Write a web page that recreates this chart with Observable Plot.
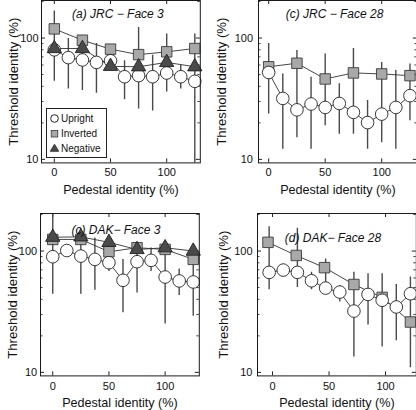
<!DOCTYPE html>
<html><head><meta charset="utf-8">
<script src="https://cdn.jsdelivr.net/npm/d3@7"></script>
<script src="https://cdn.jsdelivr.net/npm/@observablehq/plot@0.6"></script>
<style>
html,body{margin:0;padding:0;background:#fff;}
#wrap{position:relative;width:416px;height:410px;overflow:hidden;font-family:"Liberation Sans",Arial,sans-serif;}
#wrap .panel{position:absolute;}
#legend{position:absolute;left:46px;top:107.5px;width:59px;height:48.5px;border:1px solid #222;background:#fff;}
#legend svg{position:absolute;left:0;top:0;}
</style></head><body><div id="wrap"></div>
<script>
// ---------- shared tick labels ----------
const xTickValues = [0, 50, 100];
const yTickValues = [10, 100];
const yMinorTicks = [20, 30, 40, 50, 60, 70, 80, 90, 200];
const legendLabels = ["Upright", "Inverted", "Negative"];

// ---------- pedestal positions (%) ----------
const pedestalFine = [0, 12.5, 25, 37.5, 50, 62.5, 75, 87.5, 100, 112.5, 125];
const pedestalCoarse = [0, 25, 50, 75, 100, 125];
const pedestalFineD = [-3, 9.5, 22, 34.5, 47, 59.5, 72, 84.5, 97, 109.5, 122];
const pedestalCoarseD = [-4, 21, 46, 72, 97, 122];

// ---------- (a) JRC - Face 3 ----------
const aUpright   = [80, 69, 66, 63, 65, 48, 49, 48, 51.5, 48, 44];
const aUprightHi = [167, 99, 100, 90, 85, 65, 122, 72, 108, 60, 108];
const aUprightLo = [44, 38, 37, 35, 55, 31, 26, 25, 36, 38, 5];
const aInverted  = [119, 96, 81, 73, 77, 82];
const aNegative  = [82, 82, 58.5, 58, 63, 58];

// ---------- (c) JRC - Face 28 ----------
const bUpright   = [52, 31.8, 25.6, 28.6, 26.8, 28.9, 24.4, 20.1, 23.6, 26.8, 33.5];
const bUprightHi = [90, 50.6, 79, 47.5, 74, 42, 82, 30.5, 63, 54, 61];
const bUprightLo = [23.6, 12.1, 15.1, 12.1, 18.9, 16.1, 16.1, 12.1, 13.7, 12.1, 20.8];
const bInverted  = [58, 62, 46, 51.6, 50.6, 49];

// ---------- (c) DAK - Face 3 ----------
const cUpright   = [89.8, 101, 90.9, 85.4, 80.2, 57.4, 81.7, 83.8, 61.1, 56.7, 55.6];
const cUprightHi = [250, 101, 150, 128, 118, 85, 106, 106, 110, 71, 106];
const cUprightLo = [44, 101, 44, 47.5, 68, 31, 45, 68, 25, 43, 29];
const cInverted  = [124.7, 124.7, 98.7, 106.5, 103.2, 85.4];
const cNegative  = [130, 131, 118, 103, 106.5, 100];

// ---------- (d) DAK - Face 28 ----------
const dUpright   = [66.7, 69.7, 66.7, 56.9, 49.5, 45.9, 32, 43.9, 39.3, 34.6, 44.5];
const dUprightHi = [159, 78, 154, 67, 86, 52, 67, 65, 65, 53, 61];
const dUprightLo = [48, 61, 50, 48, 47, 38, 13.4, 24.6, 16.2, 18.2, 10.9];
const dInverted  = [118, 92, 73, 53, 41.5, 26];

const zip = (xs, ys) => xs.map((x, i) => ({x, y: ys[i]}));
const zipErr = (xs, lo, hi) => xs.map((x, i) => ({x, lo: lo[i], hi: hi[i]}));

const panels = [
  {left: -0.5, top: -6, xDomain: [-11.4, 129.9], title: "(a) JRC \u2212 Face 3", tdx: -3, tdy: 13.5, ypad: 3, ylab: -27.5, xpad: 5,
   up: zip(pedestalFine, aUpright), err: zipErr(pedestalFine, aUprightLo, aUprightHi),
   inv: zip(pedestalCoarse, aInverted), neg: zip(pedestalCoarse, aNegative)},
  {left: 216.5, top: -6, xDomain: [-9.0, 131.5], title: "(c) JRC \u2212 Face 28", tdx: -3.4, tdy: 13.5, ypad: 5.5, ylab: -36.5, xpad: 5,
   up: zip(pedestalFine, bUpright), err: zipErr(pedestalFine, bUprightLo, bUprightHi),
   inv: zip(pedestalCoarse, bInverted), neg: []},
  {left: -1, top: 206.5, xDomain: [-10.9, 130.4], title: "(c) DAK\u2212 Face 3", tdx: -4, tdy: 16.5, ypad: 3.3, ylab: -27.7, xpad: 6,
   up: zip(pedestalFine, cUpright), err: zipErr(pedestalFine, cUprightLo, cUprightHi),
   inv: zip(pedestalCoarse, cInverted), neg: zip(pedestalCoarse, cNegative)},
  {left: 215.7, top: 206.8, xDomain: [-13.3, 127.2], title: "(d) DAK\u2212 Face 28", tdx: -4, tdy: 25, ypad: 5, ylab: -33.4, xpad: 6,
   up: zip(pedestalFineD, dUpright), err: zipErr(pedestalFineD, dUprightLo, dUprightHi),
   inv: zip(pedestalCoarseD, dInverted), neg: []}
];

const W = 210, H = 210, mL = 41, mR = 10.2, mT = 6, mB = 41.6;
const FW = W - mL - mR, FH = H - mT - mB;
const wrap = document.getElementById("wrap");

for (const p of panels) {
  const chart = Plot.plot({
    width: W, height: H,
    marginLeft: mL, marginRight: mR, marginTop: mT, marginBottom: mB,
    style: {fontFamily: "'Liberation Sans', Arial, sans-serif", fontSize: "11px", color: "#111", background: "transparent", overflow: "visible"},
    x: {domain: p.xDomain},
    y: {type: "log", domain: [9.35, 204]},
    marks: [
      Plot.tickX(xTickValues, {x: d => d, insetTop: FH - 4, stroke: "#222"}),
      Plot.tickX(xTickValues, {x: d => d, insetBottom: FH - 4, stroke: "#222"}),
      Plot.tickY(yTickValues, {y: d => d, insetRight: FW - 4, stroke: "#222"}),
      Plot.tickY(yTickValues, {y: d => d, insetLeft: FW - 4, stroke: "#222"}),
      Plot.tickY(yMinorTicks, {y: d => d, insetRight: FW - 2.5, stroke: "#444"}),
      Plot.tickY(yMinorTicks, {y: d => d, insetLeft: FW - 2.5, stroke: "#444"}),
      Plot.ruleX(p.err, {x: "x", y1: "lo", y2: "hi", stroke: "#4a4a4a", strokeWidth: 1.4, clip: true}),
      Plot.line(p.inv, {x: "x", y: "y", stroke: "#333", strokeWidth: 0.9}),
      Plot.line(p.up, {x: "x", y: "y", stroke: "#333", strokeWidth: 0.9}),
      Plot.line(p.neg, {x: "x", y: "y", stroke: "#333", strokeWidth: 0.9}),
      Plot.dot(p.inv, {x: "x", y: "y", symbol: "square", r: 5.9, fill: "#a8a8a8", stroke: "#3a3a3a", strokeWidth: 0.9}),
      Plot.dot(p.up, {x: "x", y: "y", r: 6.3, fill: "#fff", stroke: "#222", strokeWidth: 0.9}),
      Plot.dot(p.neg, {x: "x", y: "y", symbol: "triangle", r: 5.3, fill: "#4a4a4a", stroke: "#222", strokeWidth: 0.9}),
      Plot.frame({stroke: "#1a1a1a", strokeWidth: 1}),
      Plot.axisX({ticks: xTickValues, tickSize: 0, tickPadding: p.xpad, fontSize: 11, label: null}),
      Plot.axisY({ticks: yTickValues, tickFormat: d => String(d), tickSize: 0, tickPadding: p.ypad, fontSize: 11, label: null}),
      Plot.text([p.title], {text: d => d, frameAnchor: "top", lineAnchor: "middle", textAnchor: "middle", dx: p.tdx, dy: p.tdy, fontStyle: "italic", fontSize: 12, fill: "#111"}),
      Plot.text(["Pedestal identity (%)"], {text: d => d, frameAnchor: "bottom", lineAnchor: "middle", textAnchor: "middle", dy: 26.8, fontSize: 12.6, fill: "#111"}),
      Plot.text(["Threshold identity (%)"], {text: d => d, frameAnchor: "left", lineAnchor: "middle", textAnchor: "middle", dx: p.ylab, rotate: -90, fontSize: 13.2, fill: "#111"})
    ]
  });
  chart.classList.add("panel");
  chart.style.left = p.left + "px";
  chart.style.top = p.top + "px";
  wrap.appendChild(chart);
}

// legend for panel (a)
const leg = document.createElement("div");
leg.id = "legend";
const sym = [
  `<circle cx="7.5" cy="9.5" r="3.8" fill="#fff" stroke="#222"/>`,
  `<rect x="4.2" y="21.4" width="6.6" height="6.6" fill="#a8a8a8" stroke="#3a3a3a" stroke-width="0.8"/>`,
  `<path d="M7.5,35.2 L11.7,42.3 L3.3,42.3 Z" fill="#4a4a4a" stroke="#222" stroke-width="0.8"/>`
];
leg.innerHTML = `<svg width="59" height="48.5" font-family="'Liberation Sans', Arial, sans-serif" font-size="10" fill="#111">` +
  legendLabels.map((l, i) => sym[i] + `<text x="14" y="${9.5 + i * 15.2}" dy="0.35em">${l}</text>`).join("") + `</svg>`;
wrap.appendChild(leg);
</script>
</body></html>
